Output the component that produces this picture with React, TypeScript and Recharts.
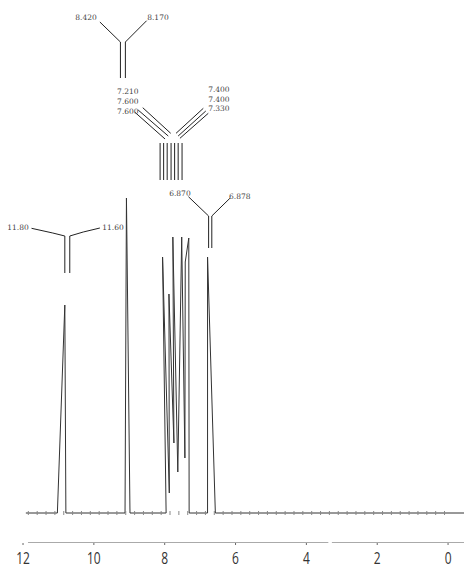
import React from 'react';
import { ComposedChart, Line, Scatter, XAxis, YAxis } from 'recharts';

// ---- spectrum trace (chemical shift in ppm, relative intensity) ----
const spectrumPpm = [11.92, 11.03, 10.82, 10.79, 9.12, 9.08, 8.98, 7.96, 8.06, 7.87, 7.88, 7.74, 7.77, 7.63, 7.52, 7.43, 7.42, 7.32, 7.31, 6.79, 6.79, 6.57, -0.45];
const spectrumIntensity = [0, 0, 41.6, 0, 0, 63, 0, 0, 51.2, 4, 43.8, 14, 55.2, 8.2, 55.2, 11, 50.2, 55, 0, 0, 51.2, 0, 0];

// ---- axis ticks ----
const xTicks = [12, 10, 8, 6, 4, 2, 0];
const minorTickPpm = Array.from({ length: 48 }, (_, i) => 11.85 - i * 0.25);
// lower axis rule, drawn in two pieces (gap near 3.3 ppm)
const axisRuleSegments = [
  [11.86, 3.38],
  [3.28, -0.45],
];
const axisRuleY = -6;

// ---- peak annotation labels ----
const labelText = ['8.420', '8.170', '7.210', '7.600', '7.600', '7.400', '7.400', '7.330', '6.870', '6.878', '11.80', '11.60'];
const labelPpm = [10.22, 8.19, 9.04, 9.04, 9.04, 6.47, 6.47, 6.47, 7.57, 5.88, 12.14, 9.46];
const labelY = [99.2, 99.2, 84.4, 82.4, 80.4, 84.8, 82.8, 81.0, 64.0, 63.4, 57.2, 57.2];

// ---- annotation connector lines (ppm, y) ----
const connectors: number[][][] = [
  // 8.420 / 8.170 group
  [[9.83, 98.2], [9.25, 94.2]],
  [[8.51, 98.46], [9.11, 94.2]],
  [[9.25, 94.2], [9.25, 87]],
  [[9.11, 94.2], [9.11, 87]],
  // 7.2-7.6 group, left diagonals
  [[8.62, 81.06], [7.83, 75.94]],
  [[8.75, 80.6], [7.9, 75.4]],
  [[8.84, 80.14], [7.99, 74.8]],
  // right diagonals
  [[6.91, 80.94], [7.68, 75.94]],
  [[6.84, 80.4], [7.62, 75.4]],
  [[6.77, 79.94], [7.57, 74.94]],
  // verticals
  [[8.13, 74], [8.13, 66.6]],
  [[8.03, 74], [8.03, 66.6]],
  [[7.93, 74], [7.93, 66.6]],
  [[7.82, 74], [7.82, 66.6]],
  [[7.72, 74], [7.72, 66.6]],
  [[7.62, 74], [7.62, 66.6]],
  [[7.51, 74], [7.51, 66.6]],
  // 6.87 group
  [[7.33, 63.26], [6.76, 59.4]],
  [[6.16, 62.94], [6.67, 59.4]],
  [[6.76, 59.4], [6.76, 53]],
  [[6.67, 59.4], [6.67, 53]],
  // 11.80 / 11.60 group
  [[11.76, 56.94], [11.16, 56], [10.82, 55.4]],
  [[9.83, 57], [10.3, 56.2], [10.68, 55.4]],
  [[10.82, 55.4], [10.82, 48]],
  [[10.68, 55.4], [10.68, 48]],
];

const spectrum = spectrumPpm.map((p, i) => ({ ppm: p, y: spectrumIntensity[i] }));
const labels = labelText.map((t, i) => ({ ppm: labelPpm[i], y: labelY[i], text: t }));
const minorTicks = minorTickPpm.map((p) => ({ ppm: p, y: 0 }));
const connectorData = connectors.map((c) => c.map(([p, y]) => ({ ppm: p, y })));
const axisRuleData = axisRuleSegments.map(([a, b]) => [
  { ppm: a, y: axisRuleY },
  { ppm: b, y: axisRuleY },
]);

const XTick = (props: any) => {
  const { x, y, payload } = props;
  return (
    <g transform={`translate(${x},${y})`}>
      <text
        transform="scale(1,1.4)"
        textAnchor="middle"
        dy="0.71em"
        fontSize={12}
        fill="#333"
        fontFamily="'Open Sans', sans-serif"
      >
        {payload.value}
      </text>
    </g>
  );
};

const LabelShape = (props: any) => {
  const { cx, cy, payload } = props;
  return (
    <text
      x={cx}
      y={cy}
      textAnchor="middle"
      dominantBaseline="central"
      fontSize={7.5}
      fill="#444"
      fontFamily="'DejaVu Serif', serif"
    >
      {payload.text}
    </text>
  );
};

const MinorTickShape = (props: any) => {
  const { cx, cy } = props;
  return <line x1={cx} x2={cx} y1={cy - 2} y2={cy + 2} stroke="#888" strokeWidth={1} />;
};

export default function App() {
  return (
    <div style={{ position: 'absolute', left: 0, top: 0, background: '#fff' }}>
      <ComposedChart width={464} height={569} margin={{ top: 13, right: 0, left: 0, bottom: 0 }}>
        <XAxis
          dataKey="ppm"
          type="number"
          domain={[-0.45, 12.65]}
          allowDataOverflow
          reversed
          ticks={xTicks}
          tick={<XTick />}
          tickSize={2}
          tickMargin={7}
          height={26}
          axisLine={false}
          tickLine={{ stroke: '#666' }}
        />
        <YAxis type="number" domain={[-6, 100]} allowDataOverflow hide />
        {axisRuleData.map((d, i) => (
          <Line
            key={`rule-${i}`}
            data={d}
            dataKey="y"
            type="linear"
            stroke="#555"
            strokeWidth={1}
            dot={false}
            activeDot={false}
            isAnimationActive={false}
          />
        ))}
        <Line
          data={spectrum}
          dataKey="y"
          type="linear"
          stroke="#333"
          strokeWidth={1}
          dot={false}
          activeDot={false}
          isAnimationActive={false}
        />
        <Scatter data={minorTicks} dataKey="y" shape={<MinorTickShape />} isAnimationActive={false} />
        {connectorData.map((d, i) => (
          <Line
            key={i}
            data={d}
            dataKey="y"
            type="linear"
            stroke="#222"
            strokeWidth={1}
            dot={false}
            activeDot={false}
            isAnimationActive={false}
          />
        ))}
        <Scatter data={labels} dataKey="y" shape={<LabelShape />} isAnimationActive={false} />
      </ComposedChart>
    </div>
  );
}
